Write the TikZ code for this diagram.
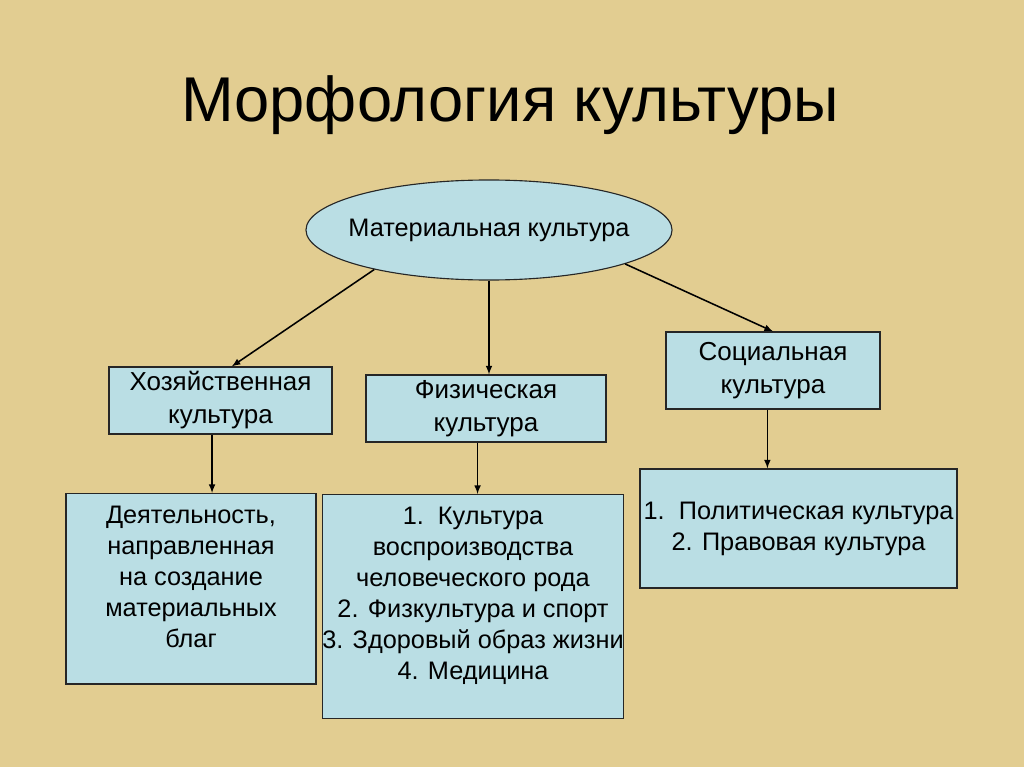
\documentclass[tikz,border=0pt]{standalone}
\usepackage{fontspec}
\setmainfont{Liberation Sans}
\usetikzlibrary{shapes.geometric}

\definecolor{parchment}{RGB}{226,205,145}
\definecolor{boxblue}{RGB}{186,222,228}

\tikzset{
  box/.style={draw=black!85, line width=0.8pt, fill=boxblue, align=center,
    font=\fontsize{18}{22}\selectfont, inner sep=0pt},
  topbox/.style={box, font=\fontsize{18.5}{23.5}\selectfont},
  oval/.style={ellipse, draw=black!85, line width=0.8pt, fill=boxblue,
    font=\fontsize{18}{22}\selectfont, inner sep=0pt},
}

\begin{document}
\begin{tikzpicture}
  [-latex, x=0.025cm, y=-0.025cm, line width=1.1pt]

  % Fundo
  \fill[parchment] (0,0) rectangle (1024,767);
  \useasboundingbox (0,0) rectangle (1024,767);

  % Titulo
  \node[anchor=base, font=\fontsize{45}{54}\selectfont] (title) at (510,122) {Морфология культуры};

  % Raiz
  \node[oval, inner xsep=-9pt, minimum width=9.15cm, minimum height=2.5cm] (mat) at (489,230) {Материальная культура};

  % Primeira camada
  \node[topbox, minimum width=5.575cm, minimum height=1.675cm] (hoz) at (220.5,400.5)
    {Хозяйственная\\культура};
  \node[topbox, minimum width=6cm, minimum height=1.675cm] (fiz) at (486,408.5)
    {Физическая\\культура};
  \node[topbox, minimum width=5.35cm, minimum height=1.925cm] (soc) at (773,370.5)
    {Социальная\\культура};

  % Segunda camada
  \node[box, anchor=north, minimum width=6.25cm, inner ysep=9pt, text depth=17pt] (deyat) at (191,493)
    {Деятельность,\\ направленная\\ на создание\\ материальных\\ благ};
  \node[box, anchor=north, minimum width=7.5cm, inner ysep=9pt, text depth=19pt] (spis) at (473,494)
    {1.\ \ Культура\\ воспроизводства\\ человеческого рода\\ 2. Физкультура и спорт\\ 3. Здоровый образ жизни\\ 4. Медицина};
  \node[box, minimum width=7.925cm, minimum height=2.975cm] (pol) at (798.5,528.5)
    {1.\ \ Политическая культура\\ 2. Правовая культура};

  % Ligando a raiz a primeira camada
  \draw (mat.199) -- ([xshift=8pt]hoz.north);
  \draw (mat.south) -- (mat.south |- fiz.north);
  \draw (mat.346) -- (soc.north);

  % Ligando a primeira camada a segunda
  \draw ([xshift=-6pt]hoz.south) -- ([xshift=-6pt]hoz.south |- deyat.north);
  \draw ([xshift=-6pt]fiz.south) -- ([xshift=-6pt]fiz.south |- spis.north);
  \draw ([xshift=-4pt]soc.south) -- ([xshift=-4pt]soc.south |- pol.north);
\end{tikzpicture}
\end{document}
